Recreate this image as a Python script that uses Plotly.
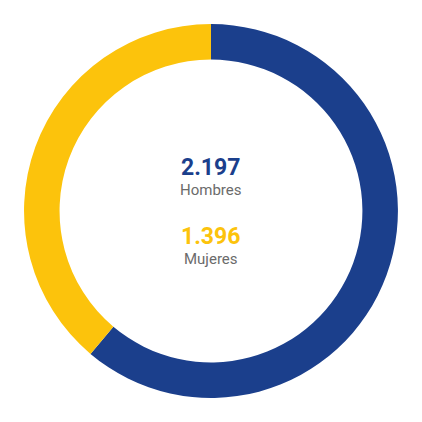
import plotly.graph_objects as go

labels = ["Hombres", "Mujeres"]
values = [2197, 1396]
value_text = ["2.197", "1.396"]
colors = ["#1b3f8c", "#fcc30c"]

fig = go.Figure(go.Pie(
    labels=labels, values=values, hole=0.81, sort=False, direction="clockwise",
    rotation=0, marker=dict(colors=colors), textinfo="none", hoverinfo="label+value",
    domain=dict(x=[0.038, 0.924], y=[0.076, 0.962]),
))

ys = [(159, 182), (228, 251)]
for (yv, yl), lab, vt, c in zip(ys, labels, value_text, colors):
    fig.add_annotation(x=0.481, y=1 - yv / 422, xref="paper", yref="paper", text=f"<b>{vt}</b>",
                       showarrow=False, font=dict(family="Roboto", size=23, color=c))
    fig.add_annotation(x=0.481, y=1 - yl / 422, xref="paper", yref="paper", text=lab,
                       showarrow=False, font=dict(family="Roboto", size=15, color="#6b6b6b"))

fig.update_layout(width=422, height=422, margin=dict(l=0, r=0, t=0, b=0),
                  showlegend=False, paper_bgcolor="white")
fig.write_html("out.html")
